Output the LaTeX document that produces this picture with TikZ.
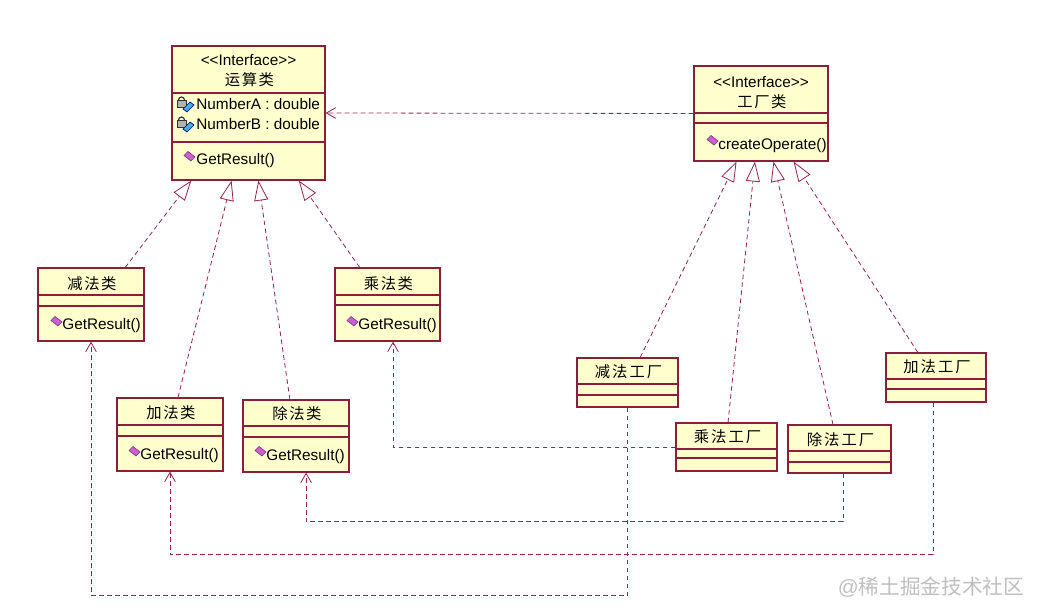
\documentclass[tikz,border=0pt]{standalone}
\usepackage{fontspec}
\setmainfont{Liberation Sans}
\newfontfamily\cjk[LetterSpace=10]{Noto Sans CJK SC}
\newfontfamily\cjkwide[LetterSpace=13]{Noto Sans CJK SC}
\newfontfamily\cjkmark{Noto Sans CJK SC}
\usepackage{tikz}
\usetikzlibrary{arrows.meta}
\usetikzlibrary{calc}
\usetikzlibrary{fit}
\definecolor{umlline}{RGB}{150,35,75}
\definecolor{umlborder}{RGB}{140,30,60}
\definecolor{umlfill}{RGB}{255,255,206}
\definecolor{iconpurple}{RGB}{205,95,210}
\definecolor{iconblue}{RGB}{70,170,235}
\tikzstyle{cls}=[rectangle,draw=umlborder,fill=umlfill,line width=0.9pt,inner sep=0mm]
\tikzstyle{divider}=[draw=umlborder,line width=0.9pt]
\tikzstyle{lbl}=[inner sep=0mm,font=\fontsize{11.5}{13}\selectfont]
\tikzstyle{meth}=[lbl,anchor=west]
\tikzstyle{realize}=[draw=umlline,line width=0.6pt,dash pattern=on 3.5pt off 2.5pt,-{Triangle[length=15pt,width=10.5pt,fill=white]}]
\tikzstyle{depend}=[draw=umlline,line width=0.6pt,dash pattern=on 3.5pt off 2.5pt,-{Straight Barb[length=7pt,width=8pt]}]
\tikzset{every picture/.style={
    line width=0.6pt
  }
}
\newcommand\methodicon[2]{%
  \filldraw[draw=iconpurple!60!black,fill=iconpurple,line width=0.5pt] (#1,#2) ++(-5,-1.5) -- ++(4,-4) -- ++(7,5.5) -- ++(-4,4) -- cycle;}
\newcommand\fieldicon[2]{%
  \draw[gray!40!black,line width=0.9pt] ({#1-17.5},{#2-4}) arc (180:360:3);
  \filldraw[draw=gray!40!black,fill=gray!60,line width=0.5pt] ({#1-19},{#2-4}) rectangle ({#1-10},{#2+3});
  \filldraw[draw=blue!50!black,fill=iconblue,line width=0.5pt] ({#1-13},{#2+5}) -- ({#1-6},{#2-2}) -- ({#1-2},{#2+1}) -- ({#1-9},{#2+8}) -- cycle;}

\begin{document}
\begin{tikzpicture}[x=0.75pt,y=-0.75pt]
  \useasboundingbox (0,0) rectangle (1042,616);
  % interfaces
  \node[cls,fit={(172,46) (325,180)}] (op) {};
  \node[cls,fit={(694,66) (828,161)}] (fac) {};
  % products
  \node[cls,fit={(38,268) (144,341)}] (sub) {};
  \node[cls,fit={(117,398) (223,471)}] (add) {};
  \node[cls,fit={(243,400) (349,472)}] (divB) {};
  \node[cls,fit={(335,268) (440,341)}] (mul) {};
  % factories
  \node[cls,fit={(577,358) (678,407)}] (subF) {};
  \node[cls,fit={(676,423) (777,471)}] (mulF) {};
  \node[cls,fit={(788,425) (891,473)}] (divF) {};
  \node[cls,fit={(886,353) (986,402)}] (addF) {};

  \draw[divider] (172,93) -- (325,93);
  \draw[divider] (172,142) -- (325,142);
  \draw[divider] (694,113) -- (828,113);
  \draw[divider] (694,123) -- (828,123);
  \draw[divider] (38,295) -- (144,295);
  \draw[divider] (38,306) -- (144,306);
  \draw[divider] (117,425) -- (223,425);
  \draw[divider] (117,436) -- (223,436);
  \draw[divider] (243,426) -- (349,426);
  \draw[divider] (243,437) -- (349,437);
  \draw[divider] (335,295) -- (440,295);
  \draw[divider] (335,305) -- (440,305);
  \draw[divider] (577,384) -- (678,384);
  \draw[divider] (577,395) -- (678,395);
  \draw[divider] (676,449) -- (777,449);
  \draw[divider] (676,458) -- (777,458);
  \draw[divider] (788,451) -- (891,451);
  \draw[divider] (788,462) -- (891,462);
  \draw[divider] (886,379) -- (986,379);
  \draw[divider] (886,389) -- (986,389);

  \node[lbl] (opTag) at (248.5,60) {{<}{<}Interface{>}{>}};
  \node[lbl] (opName) at (249.5,80) {\cjk 运算类};
  \node[meth] (opA) at (196,104) {NumberA : double};
  \node[meth] (opB) at (196,124) {NumberB : double};
  \fieldicon{196}{104}
  \fieldicon{196}{124}
  \node[meth] (opRes) at (196,161) {GetResult()};
  \methodicon{189}{157}

  \node[lbl] (facTag) at (761,82) {{<}{<}Interface{>}{>}};
  \node[lbl] (facName) at (762,102) {\cjk 工厂类};
  \node[meth] (facOp) at (718,146) {createOperate()};
  \methodicon{712}{141}

  \node[lbl] (subName) at (92,284) {\cjk 减法类};
  \node[meth] (subRes) at (62,326) {GetResult()};
  \methodicon{56}{322}
  \node[lbl] (addName) at (171,413) {\cjk 加法类};
  \node[meth] (addRes) at (140,456) {GetResult()};
  \methodicon{134}{452}
  \node[lbl] (divName) at (297,414) {\cjk 除法类};
  \node[meth] (divRes) at (266,457) {GetResult()};
  \methodicon{260}{452}
  \node[lbl] (mulName) at (388.5,284) {\cjk 乘法类};
  \node[meth] (mulRes) at (358,326) {GetResult()};
  \methodicon{352}{322}

  \node[lbl] (subFName) at (628.5,372) {\cjkwide 减法工厂};
  \node[lbl] (mulFName) at (727.5,437) {\cjkwide 乘法工厂};
  \node[lbl] (divFName) at (840.5,440) {\cjkwide 除法工厂};
  \node[lbl] (addFName) at (937,367) {\cjkwide 加法工厂};

  % realizations
  \draw[realize] ($(sub.north west)!0.82!(sub.north east)$) -- ($(op.south west)!0.129!(op.south east)$);
  \draw[realize] ($(add.north west)!0.575!(add.north east)$) -- ($(op.south west)!0.39!(op.south east)$);
  \draw[realize] ($(divB.north west)!0.443!(divB.north east)$) -- ($(op.south west)!0.564!(op.south east)$);
  \draw[realize] ($(mul.north west)!0.238!(mul.north east)$) -- ($(op.south west)!0.826!(op.south east)$);
  \draw[realize] ($(subF.north west)!0.624!(subF.north east)$) -- ($(fac.south west)!0.319!(fac.south east)$);
  \draw[realize] ($(mulF.north west)!0.515!(mulF.north east)$) -- ($(fac.south west)!0.455!(fac.south east)$);
  \draw[realize] ($(divF.north west)!0.437!(divF.north east)$) -- ($(fac.south west)!0.592!(fac.south east)$);
  \draw[realize] ($(addF.north west)!0.32!(addF.north east)$) -- ($(fac.south west)!0.741!(fac.south east)$);

  % dependencies
  \draw[depend] (fac.west) -- (op.east);
  \draw[depend] (mulF.west) -| ($(mul.south west)!0.552!(mul.south east)$);
  \draw[depend] (subF.south) -- ++(0,188) -| (sub.south);
  \draw[depend] ($(divF.south west)!0.534!(divF.south east)$) -- ++(0,48) -| ($(divB.south west)!0.594!(divB.south east)$);
  \draw[depend] ($(addF.south west)!0.47!(addF.south east)$) -- ++(0,152) -| (add.south);

  \node[lbl,text=gray!50,font=\fontsize{15.5}{17}\selectfont] (mark) at (931,587) {@\cjkmark 稀土掘金技术社区};
\end{tikzpicture}
\end{document}
